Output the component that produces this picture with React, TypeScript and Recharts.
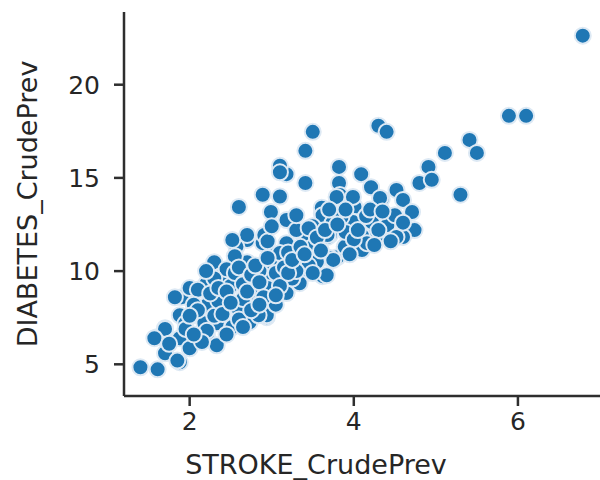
import { ScatterChart, Scatter, XAxis, YAxis } from "recharts"

// STROKE_CrudePrev vs DIABETES_CrudePrev
const strokePrev = [
  6.79, 5.89, 6.1, 3.5, 4.3, 4.4, 3.41, 5.41, 5.5, 5.11, 4.91, 4.8, 4.95, 3.82, 3.82, 4.09,
  3.18, 3.1, 3.1, 3.41, 5.3, 4.21, 4.52, 2.89, 3.1, 2.6, 2.99, 3.61, 3.61, 4.01, 4.34, 4.6,
  4.71, 4.01, 4.4, 4.74, 4.6, 4.4, 4.2, 4.1, 3.89, 3.71, 3.43, 3.68, 3.32, 3.43, 3.62, 3.8,
  4.1, 4.16, 3.12, 3.0, 3.0, 3.18, 3.34, 2.79, 2.59, 2.4, 2.3, 2.4, 2.7, 2.98, 2.7, 2.57,
  2.89, 3.18, 2.0, 1.9, 2.09, 2.33, 2.73, 2.94, 2.52, 1.7, 1.6, 1.88, 2.21, 2.33, 1.7, 2.0,
  1.88, 1.61, 1.4, 2.0, 2.18, 2.21, 1.82, 1.88, 2.3, 2.6, 1.7, 2.21, 1.57, 1.85,
  3.18, 3.44, 3.68, 2.7, 2.91, 3.83, 4.32, 4.41, 3.62, 3.99, 3.79, 3.99, 4.22, 3.74, 2.95,
  2.52, 2.99, 3.1, 2.61, 2.79, 3.18, 2.94, 2.84, 3.67, 3.71, 3.89, 4.52,
  3.3, 3.5, 3.5, 3.2, 3.55, 3.9, 4.0, 3.85, 4.15, 4.5, 4.3, 3.3, 3.0, 2.85, 2.55, 2.45,
  2.2, 2.1, 2.5, 2.65, 2.95, 3.05, 2.35, 2.05, 1.95, 2.15, 2.45, 2.75, 2.4, 3.25, 3.45,
  3.3, 3.75, 3.95, 4.25, 4.45,
  1.95, 2.05, 2.1, 2.25, 2.3, 2.35, 2.45, 2.5, 2.55, 2.6, 2.65, 2.7, 2.75, 2.8, 2.85, 2.9,
  2.95, 3.05, 3.1, 3.15, 3.2, 3.25, 3.35, 3.4, 3.45, 3.55, 3.6, 3.65, 3.7, 3.8, 3.9, 4.05,
  4.2, 4.35, 4.6, 2.2, 2.0, 1.75, 2.65, 2.85, 3.05, 3.5,
]

const diabetesPrev = [
  22.63, 18.33, 18.33, 17.47, 17.8, 17.47, 16.45, 17.04, 16.34, 16.34, 15.59, 14.73, 14.9,
  15.59, 14.73, 15.2, 15.2, 15.65, 15.3, 14.73, 14.1, 14.5, 14.35, 14.1, 14.0, 13.44, 13.17,
  13.1, 13.4, 13.44, 13.87, 13.82, 13.17, 12.63, 12.47, 12.2, 11.83, 11.83, 11.94, 11.9,
  11.3, 11.94, 11.83, 11.83, 10.7, 9.9, 9.73, 10.75, 11.13, 11.5, 10.97, 10.32, 9.62, 8.87,
  9.35, 8.71, 8.0, 8.87, 10.48, 9.78, 10.48, 10.97, 11.67, 11.3, 11.5, 11.5, 8.55, 8.6,
  7.63, 7.2, 7.26, 7.53, 7.0, 6.94, 6.45, 6.4, 6.56, 6.02, 5.59, 5.86, 5.11, 4.73, 4.84,
  9.09, 7.2, 8.17, 8.6, 7.63, 7.6, 7.4, 6.9, 6.8, 6.4, 5.2,
  12.74, 11.94, 11.94, 11.94, 11.94, 14.08, 13.92, 12.47, 13.0, 13.98, 13.98, 12.63, 12.63,
  12.58, 11.6, 11.67, 10.38, 10.97, 9.62, 8.82, 8.82, 7.63, 7.63, 9.78, 10.7, 11.3, 11.83,
  12.2, 12.4, 11.3, 11.0, 10.5, 12.1, 11.7, 12.9, 12.95, 13.0, 12.2, 13.0, 12.4, 10.0, 10.8,
  10.1, 9.3, 9.0, 9.2, 8.5, 9.1, 8.2, 8.4, 8.2, 7.2, 6.2, 6.6, 7.9, 7.7, 9.6, 10.3, 10.0,
  10.6, 10.9, 11.4, 11.6,
  6.9, 6.6, 7.9, 8.8, 9.6, 9.1, 8.9, 8.3, 9.9, 10.2, 9.3, 8.9, 9.8, 10.3, 9.4, 8.6,
  10.7, 9.9, 9.2, 10.2, 9.9, 10.6, 11.3, 10.9, 12.3, 11.8, 11.1, 12.2, 13.3, 12.5, 13.3, 12.2,
  13.3, 13.2, 12.6, 10.0, 7.6, 6.1, 7.0, 8.2, 8.7, 9.9,
]

const xTicks = [2, 4, 6]
const yTicks = [5, 10, 15, 20]

const points = strokePrev.map((s, i) => ({ stroke: s, diabetes: diabetesPrev[i] }))

const ink = "#262626"
const font = "DejaVu Sans"

const Dot = (props: any) => (
  <circle
    cx={props.cx}
    cy={props.cy}
    r={8}
    fill="#1f77b4"
    stroke="#dde9f4"
    strokeWidth={2}
  />
)

export default function App() {
  return (
    <div style={{ position: "absolute", left: 0, top: 0, width: 600, height: 480, background: "#fff" }}>
      <ScatterChart
        width={600}
        height={480}
        margin={{ top: 12, right: 0, bottom: 0, left: 0 }}
      >
        <XAxis
          type="number"
          dataKey="stroke"
          domain={[1.2, 7.0]}
          ticks={xTicks}
          allowDataOverflow
          height={84}
          stroke="#2e2e2e"
          strokeWidth={2.5}
          tickSize={10}
          tickMargin={6}
          tick={{ fill: ink, fontSize: 25, fontFamily: font }}
          label={{
            value: "STROKE_CrudePrev",
            position: "insideBottom",
            dx: -46,
            offset: 6,
            fill: ink,
            fontSize: 27,
            fontFamily: font,
          }}
        />
        <YAxis
          type="number"
          dataKey="diabetes"
          domain={[3.3, 23.9]}
          ticks={yTicks}
          allowDataOverflow
          width={124}
          stroke="#2e2e2e"
          strokeWidth={2.5}
          tickSize={10}
          tickMargin={14}
          tick={{ fill: ink, fontSize: 25, fontFamily: font }}
          label={{
            value: "DIABETES_CrudePrev",
            angle: -90,
            position: "insideLeft",
            offset: 27,
            fill: ink,
            fontSize: 27,
            fontFamily: font,
            style: { textAnchor: "middle" },
          }}
        />
        <Scatter data={points} shape={Dot} isAnimationActive={false} />
      </ScatterChart>
    </div>
  )
}
